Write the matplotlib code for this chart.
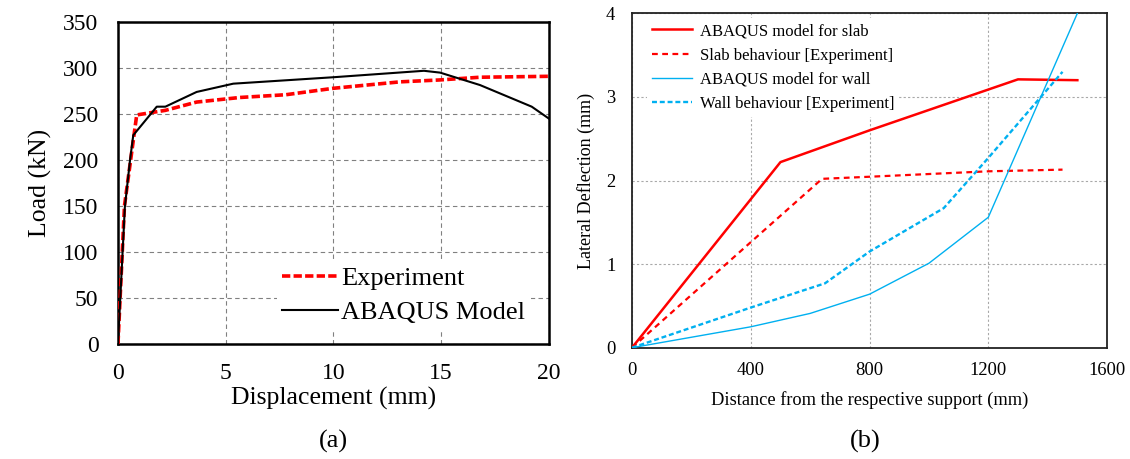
import matplotlib
matplotlib.use("Agg")
import matplotlib.pyplot as plt

plt.rcParams["font.family"] = ["Liberation Serif", "DejaVu Serif"]

# (a) load-displacement
exp_x = [0, 0.3, 0.87, 2.2, 3.65, 5.66, 7.8, 10, 13.1, 14.9, 16.8, 20]
exp_y = [0, 150, 249, 254, 263, 268, 271, 278, 285, 287, 290, 291]
abq_x = [0, 0.32, 0.56, 0.71, 1.8, 2.2, 3.65, 5.35, 10, 14.2, 14.95, 16.8, 19.2, 20]
abq_y = [0, 149, 200, 227, 258, 258, 274, 283, 290, 297, 295, 281.5, 258, 245]

# (b) lateral deflection
slab_model_x = [0, 500, 800, 1300, 1500]
slab_model_y = [0, 2.22, 2.6, 3.21, 3.2]
slab_exp_x = [0, 640, 800, 1200, 1450]
slab_exp_y = [0, 2.02, 2.045, 2.11, 2.13]
wall_model_x = [0, 400, 600, 800, 1000, 1200, 1500]
wall_model_y = [0, 0.25, 0.41, 0.64, 1.01, 1.56, 4.0]
wall_exp_x = [0, 400, 650, 800, 1050, 1200, 1450]
wall_exp_y = [0, 0.48, 0.77, 1.15, 1.67, 2.27, 3.30]

RED = "#FF0000"
BLUE = "#00B0F0"

fig = plt.figure(figsize=(11.3, 4.59), dpi=100)

# ---------- panel (a) ----------
ax1 = fig.add_axes([0.1044, 0.2505, 0.3814, 0.7015])
ax1.plot(exp_x, exp_y, color=RED, lw=2.6, dashes=(2.3, 0.9), label="Experiment", zorder=3)
ax1.plot(abq_x, abq_y, color="black", lw=1.5, label="ABAQUS Model", zorder=4)
ax1.set_xlim(0, 20)
ax1.set_ylim(0, 350)
ax1.set_xticks([0, 5, 10, 15, 20])
ax1.set_yticks(range(0, 351, 50))
ax1.tick_params(length=0, labelsize=17, pad=14)
ax1.tick_params(axis="x", pad=14)
ax1.grid(True, color="#808080", ls=(0, (4, 3)), lw=0.8)
for s in ax1.spines.values():
    s.set_linewidth(1.8)
ax1.set_xlabel("Displacement (mm)", fontsize=18.5, labelpad=2)
ax1.set_ylabel("Load (kN)", fontsize=18.5, labelpad=8)
leg1 = ax1.legend(loc="lower right", bbox_to_anchor=(0.97, 0.03), fontsize=19,
                  frameon=True, fancybox=False, framealpha=1, edgecolor="none",
                  handlelength=2.1, handletextpad=0.15, borderpad=0.2,
                  labelspacing=0.4, borderaxespad=0.2)
leg1.set_zorder(2)

# ---------- panel (b) ----------
ax2 = fig.add_axes([0.5593, 0.2425, 0.4204, 0.7285])
ax2.plot(slab_model_x, slab_model_y, color=RED, lw=1.8, label="ABAQUS model for slab", zorder=4)
ax2.plot(slab_exp_x, slab_exp_y, color=RED, lw=1.6, dashes=(2.6, 2.0),
         label="Slab behaviour [Experiment]", zorder=4)
ax2.plot(wall_model_x, wall_model_y, color=BLUE, lw=1.0, label="ABAQUS model for wall", zorder=4)
ax2.plot(wall_exp_x, wall_exp_y, color=BLUE, lw=1.7, dashes=(2.1, 1.2),
         label="Wall behaviour [Experiment]", zorder=4)
ax2.set_xlim(0, 1600)
ax2.set_ylim(0, 4)
ax2.set_xticks([0, 400, 800, 1200, 1600])
ax2.set_yticks([0, 1, 2, 3, 4])
ax2.tick_params(length=0, labelsize=13.3, pad=10)
ax2.tick_params(axis="y", pad=12)
ax2.grid(True, color="#A8A8A8", ls=(0, (2, 2)), lw=0.8)
for s in ax2.spines.values():
    s.set_linewidth(1.3)
    s.set_color("#222222")
ax2.set_xlabel("Distance from the respective support (mm)", fontsize=13.2, labelpad=9)
ax2.set_ylabel("Lateral Deflection (mm)", fontsize=13, labelpad=8)
leg2 = ax2.legend(loc="upper left", bbox_to_anchor=(0.02, 1.0), fontsize=12,
                  frameon=True, fancybox=False, framealpha=1, edgecolor="none",
                  handlelength=2.4, handletextpad=0.5, borderpad=0.3,
                  labelspacing=0.5, borderaxespad=0.3)
leg2.set_zorder(2)

fig.text(333 / 1130, 1 - 441.7 / 459, "(a)", fontsize=19, ha="center", va="center")
fig.text(865 / 1130, 1 - 441.7 / 459, "(b)", fontsize=19, ha="center", va="center")

fig.savefig("out.png", dpi=100)
